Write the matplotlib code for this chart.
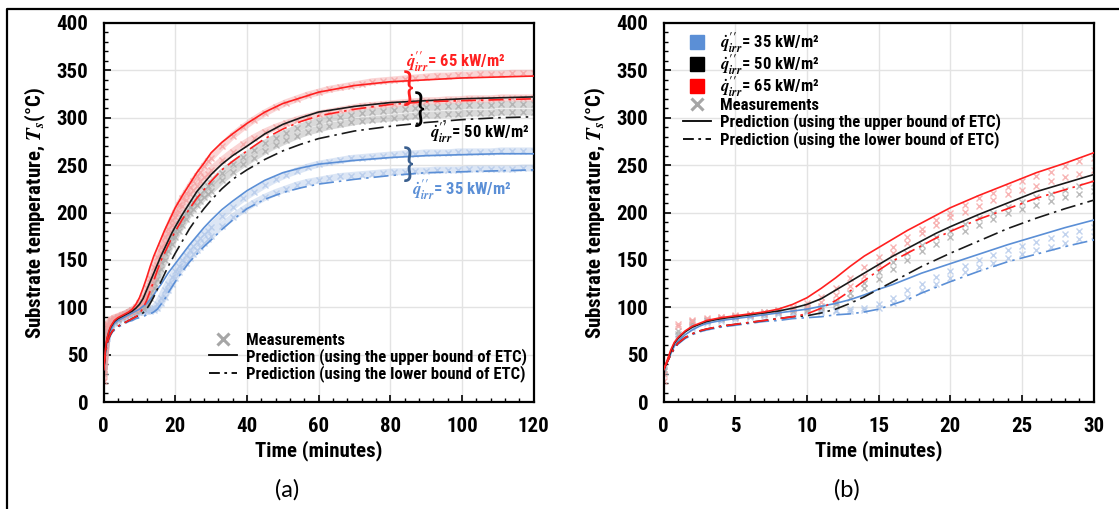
import matplotlib
matplotlib.use("Agg")
import matplotlib.pyplot as plt
from matplotlib.lines import Line2D
from matplotlib.ticker import MultipleLocator

# ---- data ----
# prediction time grid (minutes)
t_pred = [0, 0.25, 0.5, 0.75, 1, 1.5, 2, 2.5, 3, 4, 5, 6, 7, 8, 9, 10, 11, 12, 13, 14,
          15, 16, 17, 18, 19, 20, 22, 24, 26, 28, 30, 33, 36, 40, 45, 50, 55, 60, 70, 80,
          90, 100, 110, 120]

# 65 kW/m2
pred65_upper = [34, 44, 55, 63, 68, 75, 80, 83, 86, 89, 91, 93, 95, 98, 103, 110, 120, 131, 143, 154,
                163, 172, 181, 189, 197, 205, 218, 230, 242, 252, 263, 274, 283, 294, 306, 315, 321, 327, 334, 338,
                340, 342, 343, 344]
pred65_lower = [34, 42, 50, 57, 62, 68, 72, 75, 77, 80, 82, 84, 86, 88, 90, 93, 99, 107, 117, 128,
                139, 149, 157, 165, 173, 180, 193, 204, 215, 224, 233, 245, 254, 265, 278, 288, 296, 302, 309, 314,
                317, 318, 319, 320]
# 50 kW/m2
pred50_upper = [34, 43, 53, 62, 67, 74, 79, 82, 85, 88, 90, 92, 94, 96, 99, 103, 109, 118, 127, 136,
                145, 154, 162, 170, 178, 185, 198, 210, 222, 231, 240, 251, 260, 270, 283, 293, 300, 306, 312, 316,
                318, 320, 321, 322]
pred50_lower = [34, 42, 50, 57, 62, 68, 72, 75, 77, 80, 82, 84, 86, 88, 90, 91, 94, 98, 104, 111,
                119, 127, 135, 143, 150, 157, 170, 183, 194, 204, 213, 225, 235, 245, 256, 265, 272, 278, 286, 291,
                295, 298, 300, 301]
# 35 kW/m2
pred35_upper = [34, 42, 51, 59, 64, 71, 76, 80, 83, 86, 88, 90, 92, 94, 96, 98, 101, 104, 108, 113,
                119, 124, 130, 136, 141, 146, 156, 166, 175, 184, 192, 203, 212, 223, 234, 242, 247, 251, 255, 258,
                260, 261, 262, 262]
pred35_lower = [34, 42, 50, 56, 61, 67, 71, 74, 76, 79, 81, 83, 85, 86, 88, 89, 90, 92, 93, 95,
                98, 103, 108, 115, 121, 127, 138, 148, 156, 164, 171, 182, 192, 204, 214, 221, 226, 230, 235, 239,
                242, 243, 244, 245]

# measurement time grid (minutes): every minute to 30, then every 3 minutes
t_meas = list(range(0, 31)) + list(range(33, 121, 3))

meas65_a = [22, 80, 86, 89, 90, 92, 93, 95, 97, 100, 104, 111, 120, 131, 142, 153, 164, 174, 183, 192,
            200, 208, 215, 221, 227, 233, 238, 243, 249, 254, 258,
            270, 281, 290, 298, 305, 311, 316, 320, 324, 327, 330, 332, 334, 336, 338, 339, 340, 341, 342,
            343, 344, 344, 345, 345, 346, 346, 346, 347, 347, 347]
meas65_b = [30, 82, 87, 88, 90, 91, 92, 94, 96, 98, 101, 106, 113, 122, 133, 145, 157, 168, 178, 187,
            195, 201, 207, 213, 219, 224, 228, 233, 237, 241, 245,
            255, 264, 272, 279, 285, 290, 294, 298, 301, 304, 306, 308, 310, 312, 313, 314, 315, 316, 317,
            318, 318, 319, 319, 320, 320, 320, 321, 321, 321, 321]
meas50_a = [35, 75, 84, 87, 89, 91, 93, 95, 97, 98, 99, 101, 106, 115, 126, 137, 148, 157, 166, 174,
            181, 188, 194, 200, 206, 211, 216, 220, 224, 228, 231,
            242, 251, 259, 266, 273, 279, 284, 289, 293, 296, 299, 301, 303, 305, 306, 307, 308, 309, 310,
            311, 311, 312, 312, 313, 313, 313, 314, 314, 314, 314]
meas50_b = [33, 72, 82, 86, 88, 90, 92, 93, 95, 96, 97, 99, 103, 110, 120, 130, 140, 150, 159, 167,
            174, 181, 187, 193, 199, 204, 208, 212, 216, 220, 223,
            234, 243, 251, 258, 265, 271, 276, 281, 285, 288, 291, 293, 295, 297, 298, 299, 300, 301, 302,
            303, 303, 304, 304, 305, 305, 305, 306, 306, 306, 306]
meas35_a = [34, 70, 80, 85, 88, 90, 91, 93, 94, 95, 96, 97, 97, 98, 99, 103, 110, 118, 125, 132,
            138, 144, 150, 155, 160, 165, 169, 173, 177, 181, 185,
            196, 206, 215, 222, 229, 235, 240, 244, 248, 251, 253, 255, 257, 258, 259, 260, 261, 262, 262,
            263, 263, 263, 264, 264, 264, 264, 265, 265, 265, 265]
meas35_b = [33, 68, 78, 83, 86, 88, 90, 91, 93, 94, 95, 95, 96, 96, 97, 99, 104, 111, 118, 125,
            131, 137, 142, 147, 152, 156, 160, 164, 168, 172, 175,
            186, 195, 203, 210, 216, 221, 225, 229, 232, 234, 236, 238, 239, 240, 241, 242, 243, 243, 244,
            244, 245, 245, 245, 246, 246, 246, 246, 246, 247, 247]

flux_labels = ["35", "50", "65"]

# ---- style ----
RED = "#FF2020"
BLACK = "#1a1a1a"
BLUE = "#5B8FD6"
RED_M = "#F5A3A3"
GRAY_M = "#ABABAB"
BLUE_M = "#B3C9EA"
DASHDOT = (0, (9, 3, 1.5, 3))

plt.rcParams["font.family"] = ["Roboto Condensed", "Archivo Narrow", "DejaVu Sans"]
plt.rcParams["font.weight"] = "bold"
plt.rcParams["mathtext.fontset"] = "stix"

fig = plt.figure(figsize=(11.19, 5.09), dpi=100)
ax_a = fig.add_axes([103.6 / 1119, 107 / 509, 430 / 1119, 379 / 509])
ax_b = fig.add_axes([663.6 / 1119, 107 / 509, 430 / 1119, 379 / 509])

series_pred = [
    (pred35_upper, pred35_lower, BLUE),
    (pred50_upper, pred50_lower, BLACK),
    (pred65_upper, pred65_lower, RED),
]
series_meas = [
    (meas35_a, meas35_b, BLUE_M),
    (meas50_a, meas50_b, GRAY_M),
    (meas65_a, meas65_b, RED_M),
]


def q_label(v):
    return r"$\dot{q}^{\prime\prime}_{irr}$" + "= %s kW/m\u00b2" % v


for ax, xmax, xmaj, xmin in [(ax_a, 120, 20, 4), (ax_b, 30, 5, 1)]:
    wide = ax is ax_a
    for ma, mb, col in series_meas:
        for m in (ma, mb):
            if wide:
                ax.plot(t_meas, m, color=col, lw=5, alpha=0.45, solid_capstyle="butt", zorder=2)
            ax.plot(t_meas, m, ls="none", marker="x", ms=5 if not wide else 4, mew=1.0,
                    color=col, alpha=0.8, zorder=2)
    for up, lo, col in series_pred:
        ax.plot(t_pred, up, color=col, lw=1.2, zorder=3)
        ax.plot(t_pred, lo, color=col, lw=1.2, ls=DASHDOT, zorder=3)

    ax.set_xlim(0, xmax)
    ax.set_ylim(0, 400)
    ax.xaxis.set_major_locator(MultipleLocator(xmaj))
    ax.xaxis.set_minor_locator(MultipleLocator(xmin))
    ax.yaxis.set_major_locator(MultipleLocator(50))
    ax.yaxis.set_minor_locator(MultipleLocator(10))
    ax.grid(True, which="major", color="#E3E3E3", lw=1.0, zorder=0)
    ax.set_axisbelow(True)
    ax.tick_params(which="major", direction="in", length=5, width=1.2, labelsize=15, pad=11)
    ax.tick_params(which="minor", direction="in", length=3, width=1.0)
    for sp in ax.spines.values():
        sp.set_linewidth(1.6)
    for lab in ax.get_xticklabels() + ax.get_yticklabels():
        lab.set_fontweight("bold")
    ax.set_xlabel("Time (minutes)", fontsize=15, fontweight="bold", labelpad=3)
    ax.set_ylabel("Substrate temperature, $T_s$(\u00b0C)", fontsize=15, fontweight="bold", labelpad=6)

# legend handles
h_meas = Line2D([], [], ls="none", marker="x", ms=8, mew=2.2, color="#A6A6A6")
h_up = Line2D([], [], color="black", lw=1.3)
h_lo = Line2D([], [], color="black", lw=1.3, ls=(0, (6, 2.5, 1.5, 2.5)))
leg_labels = ["Measurements", "Prediction (using the upper bound of ETC)",
              "Prediction (using the lower bound of ETC)"]
leg_kw = dict(loc="upper left", frameon=False, fontsize=12, handlelength=1.7,
              handletextpad=0.55, borderpad=0, borderaxespad=0)

# legend (a)
ax_a.legend([h_meas, h_up, h_lo], leg_labels, bbox_to_anchor=(0.245, 0.183),
            labelspacing=0.02, **leg_kw)

# legend (b): flux colours, then the line/marker meanings
sq = [Line2D([], [], ls="none", marker="s", ms=10, color=c) for c in ("#5B8FD6", "black", "#FF0000")]
leg_flux = ax_b.legend(sq, [q_label(v) for v in flux_labels], bbox_to_anchor=(0.045, 0.98),
                       labelspacing=-0.2, **leg_kw)
ax_b.add_artist(leg_flux)
ax_b.legend([h_meas, h_up, h_lo], leg_labels, bbox_to_anchor=(0.045, 0.803),
            labelspacing=0.05, **leg_kw)

# annotations on (a)
ax_a.text(84.5, 359, q_label("65"), color=RED, fontsize=12, fontweight="bold", va="center", ha="left")
ax_a.text(91, 284, q_label("50"), color="black", fontsize=12, fontweight="bold", va="center", ha="left")
ax_a.text(86, 224, q_label("35"), color=BLUE, fontsize=12, fontweight="bold", va="center", ha="left")
for x, y, c in [(83.5, 330, RED), (86.5, 308, "black"), (83.5, 250, "#3a5f8f")]:
    ax_a.text(x, y, "}", color=c, fontsize=27, fontweight="normal", family="Lato",
              va="center", ha="left")

# panel captions
fig.text(287 / 1119, 1 - 490 / 509, "(a)", fontsize=17, fontweight="normal", family="Lato",
         ha="center", va="center")
fig.text(847 / 1119, 1 - 490 / 509, "(b)", fontsize=17, fontweight="normal", family="Lato",
         ha="center", va="center")

# outer frame (left and top edges)
fig.add_artist(Line2D([7 / 1119, 7 / 1119, 1.0], [0.0, 1 - 9 / 509, 1 - 9 / 509],
                      transform=fig.transFigure, color="black", lw=1.6))

fig.savefig("out.png", dpi=100)
